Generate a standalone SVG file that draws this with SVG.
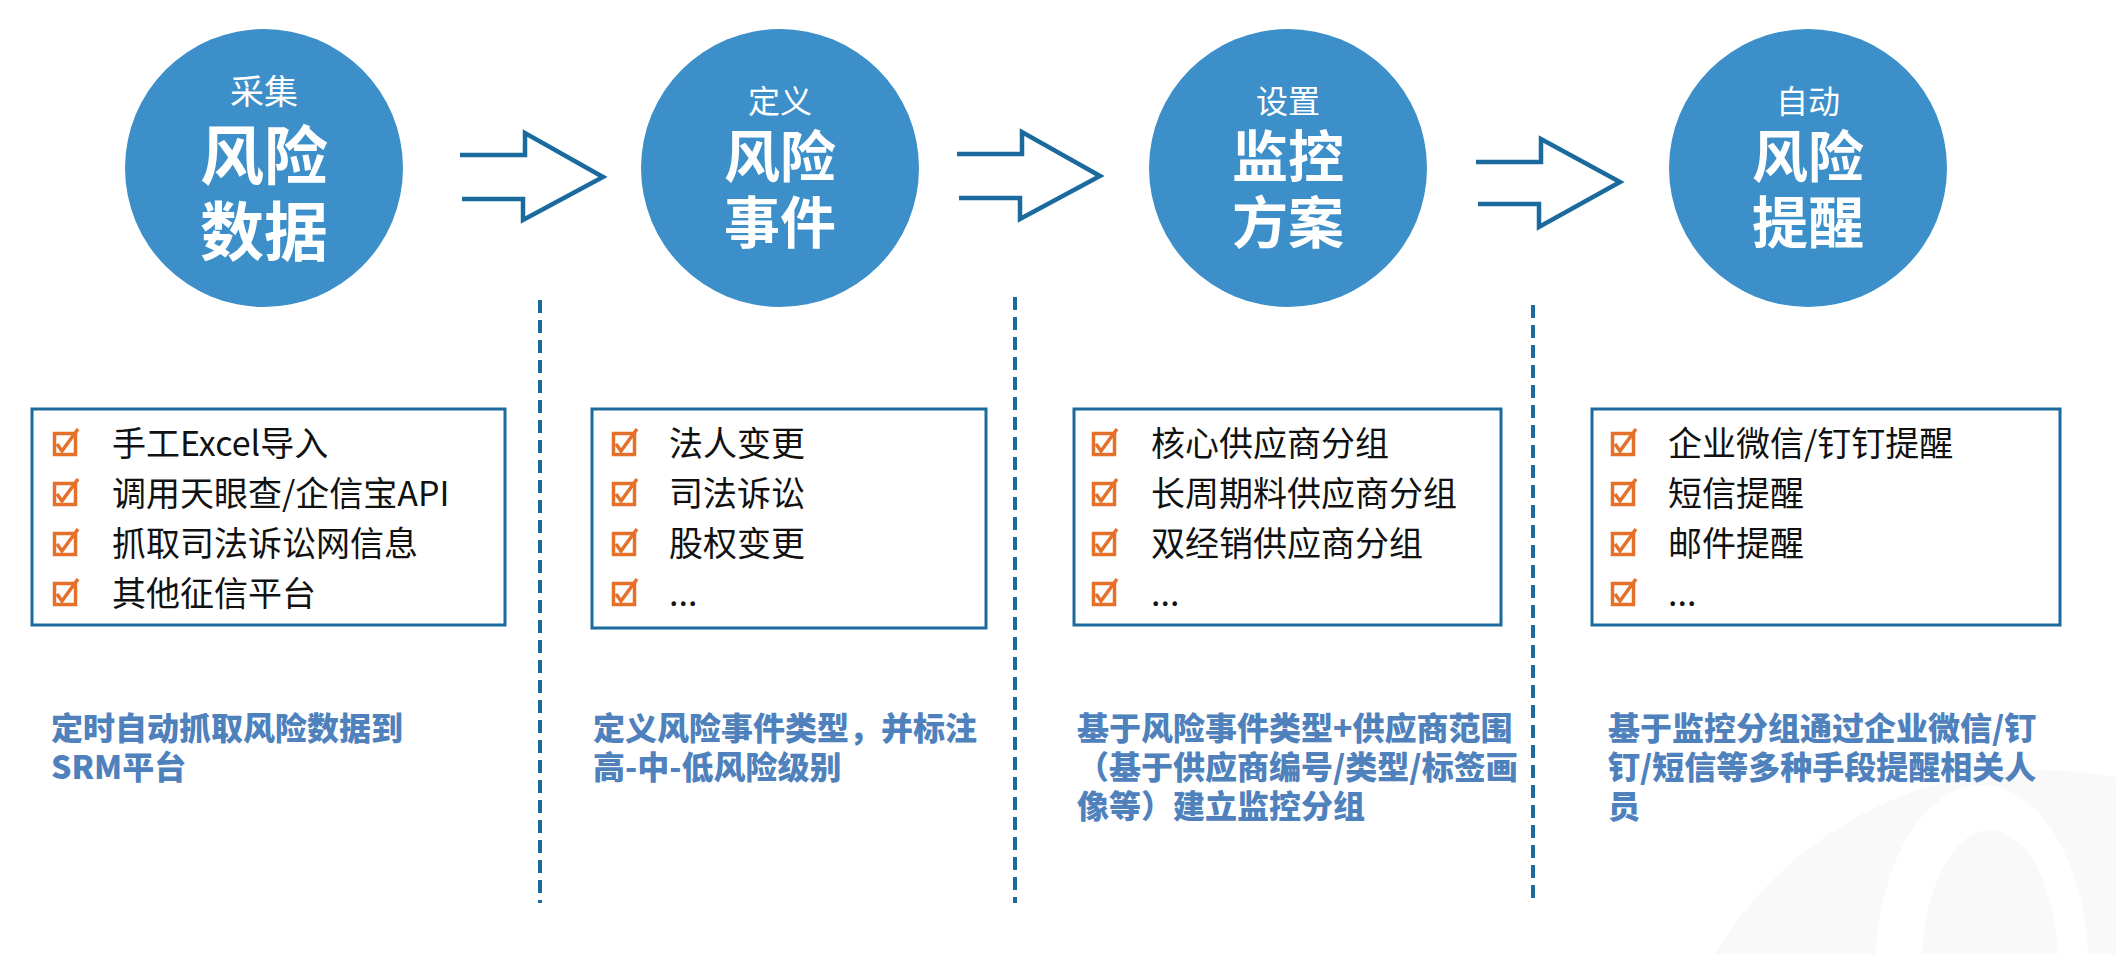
<svg xmlns="http://www.w3.org/2000/svg" xmlns:xlink="http://www.w3.org/1999/xlink" width="2116" height="954" viewBox="0 0 2116 954">
<defs>
<style>
.circ{fill:#3c8fc9}
.ct{fill:#fff;font-family:"Noto Sans CJK SC","Noto Sans",sans-serif;text-anchor:middle}
.small{font-size:32px;font-weight:400}
.big1{font-size:64px;font-weight:700}
.big{font-size:56px;font-weight:700}
.arrow{fill:none;stroke:#1b6a9e;stroke-width:4.5;stroke-linejoin:miter}
.dash{stroke:#1b6a9e;stroke-width:4;stroke-dasharray:13 7}
.box{fill:#fff;stroke:#1b6a9e;stroke-width:3}
.item{font-family:"Noto Sans CJK SC","Noto Sans",sans-serif;font-size:34px;fill:#111}
.desc{font-family:"Noto Sans CJK SC","Noto Sans",sans-serif;font-size:32px;font-weight:900;fill:#4f81bd}
.wm{fill:#f9f9fa}
</style>
<g id="chk">
<rect x="1.5" y="1.5" width="21" height="21" fill="none" stroke="#e5702a" stroke-width="3.5"/>
<path d="M4,12 L9,19 L25,-3" fill="none" stroke="#e5702a" stroke-width="3.5" stroke-linejoin="miter"/>
</g>
</defs>
<rect width="2116" height="954" fill="#fff"/>

<g id="watermark">
<circle class="wm" cx="2040" cy="1150" r="380"/>
<ellipse cx="1982" cy="965" rx="106" ry="180" fill="#fff"/>
<ellipse class="wm" cx="1990" cy="965" rx="68" ry="135"/>
</g>

<g id="connectors">
<polyline class="arrow" points="460,155 525,155 525,133 603,177 523,220 523,199 462,199"/>
<polyline class="arrow" points="957,154 1022,154 1022,132 1100,176 1020,219 1020,198 959,198"/>
<polyline class="arrow" points="1476,162 1541,162 1541,139 1620,182 1539,227 1539,204 1478,204"/>
<line class="dash" x1="540" y1="300" x2="540" y2="903"/>
<line class="dash" x1="1015" y1="297" x2="1015" y2="903"/>
<line class="dash" x1="1533" y1="305" x2="1533" y2="903"/>
</g>

<g id="node-collect">
<circle class="circ" cx="264" cy="168" r="139"/>
<text class="ct small" x="264" y="104" style="font-size:34px">采集</text>
<text class="ct big1" x="264" y="179">风险</text>
<text class="ct big1" x="264" y="255">数据</text>
</g>
<g id="node-define">
<circle class="circ" cx="780" cy="168" r="139"/>
<text class="ct small" x="780" y="113">定义</text>
<text class="ct big" x="780" y="177">风险</text>
<text class="ct big" x="780" y="243">事件</text>
</g>
<g id="node-monitor">
<circle class="circ" cx="1288" cy="168" r="139"/>
<text class="ct small" x="1288" y="113">设置</text>
<text class="ct big" x="1288" y="177">监控</text>
<text class="ct big" x="1288" y="243">方案</text>
</g>
<g id="node-remind">
<circle class="circ" cx="1808" cy="168" r="139"/>
<text class="ct small" x="1808" y="113">自动</text>
<text class="ct big" x="1808" y="177">风险</text>
<text class="ct big" x="1808" y="243">提醒</text>
</g>

<g id="list-collect">
<rect class="box" x="32" y="409" width="473" height="216"/>
<use xlink:href="#chk" x="53" y="432"/>
<use xlink:href="#chk" x="53" y="482"/>
<use xlink:href="#chk" x="53" y="532"/>
<use xlink:href="#chk" x="53" y="582"/>
<text class="item" x="112" y="456">手工Excel导入</text>
<text class="item" x="112" y="506">调用天眼查/企信宝API</text>
<text class="item" x="112" y="556">抓取司法诉讼网信息</text>
<text class="item" x="112" y="606">其他征信平台</text>
</g>
<g id="list-define">
<rect class="box" x="592" y="409" width="394" height="219"/>
<use xlink:href="#chk" x="612" y="432"/>
<use xlink:href="#chk" x="612" y="482"/>
<use xlink:href="#chk" x="612" y="532"/>
<use xlink:href="#chk" x="612" y="582"/>
<text class="item" x="669" y="456">法人变更</text>
<text class="item" x="669" y="506">司法诉讼</text>
<text class="item" x="669" y="556">股权变更</text>
<text class="item" x="669" y="606">...</text>
</g>
<g id="list-monitor">
<rect class="box" x="1074" y="409" width="427" height="216"/>
<use xlink:href="#chk" x="1092" y="432"/>
<use xlink:href="#chk" x="1092" y="482"/>
<use xlink:href="#chk" x="1092" y="532"/>
<use xlink:href="#chk" x="1092" y="582"/>
<text class="item" x="1151" y="456">核心供应商分组</text>
<text class="item" x="1151" y="506">长周期料供应商分组</text>
<text class="item" x="1151" y="556">双经销供应商分组</text>
<text class="item" x="1151" y="606">...</text>
</g>
<g id="list-remind">
<rect class="box" x="1592" y="409" width="468" height="216"/>
<use xlink:href="#chk" x="1611" y="432"/>
<use xlink:href="#chk" x="1611" y="482"/>
<use xlink:href="#chk" x="1611" y="532"/>
<use xlink:href="#chk" x="1611" y="582"/>
<text class="item" x="1668" y="456">企业微信/钉钉提醒</text>
<text class="item" x="1668" y="506">短信提醒</text>
<text class="item" x="1668" y="556">邮件提醒</text>
<text class="item" x="1668" y="606">...</text>
</g>

<g id="desc-collect">
<text class="desc" x="51" y="740">定时自动抓取风险数据到</text>
<text class="desc" x="51" y="779">SRM平台</text>
</g>
<g id="desc-define">
<text class="desc" x="593" y="740">定义风险事件类型，并标注</text>
<text class="desc" x="593" y="779">高-中-低风险级别</text>
</g>
<g id="desc-monitor">
<text class="desc" x="1077" y="740">基于风险事件类型+供应商范围</text>
<text class="desc" x="1077" y="779">（基于供应商编号/类型/标签画</text>
<text class="desc" x="1077" y="818">像等）建立监控分组</text>
</g>
<g id="desc-remind">
<text class="desc" x="1608" y="740">基于监控分组通过企业微信/钉</text>
<text class="desc" x="1608" y="779">钉/短信等多种手段提醒相关人</text>
<text class="desc" x="1608" y="818">员</text>
</g>
</svg>
